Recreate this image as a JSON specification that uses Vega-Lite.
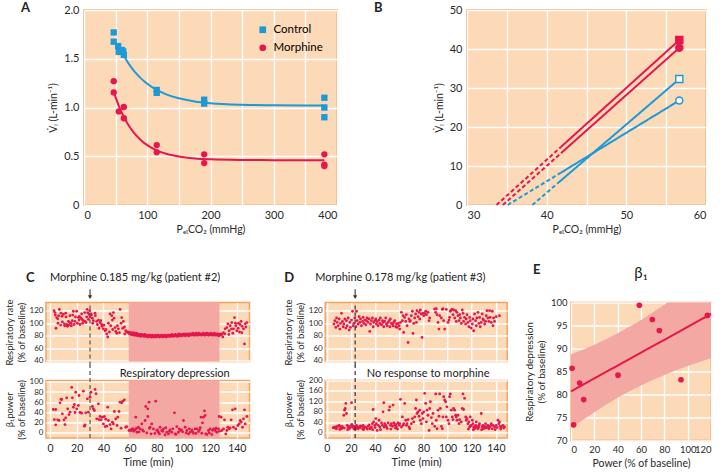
{
"$schema":"https://vega.github.io/schema/vega-lite/v6.json",
"background":"white",
"padding":{"left":3,"top":0,"right":2,"bottom":2},
"config":{
 "font":"Lato",
 "view":{"fill":"#FCD9B7","stroke":"#F5A45F","strokeWidth":1.5},
 "axis":{"domain":false,"ticks":false,"labelOverlap":false,"gridColor":"#FFFFFF","gridWidth":1.4,"gridOpacity":1,"labelColor":"#2a2a2a","titleColor":"#2a2a2a","titleFontWeight":"normal","labelFont":"Lato","titleFont":"Lato"},
 "title":{"font":"Lato","fontWeight":"normal","color":"#222222","fontSize":11},
 "legend":{"labelFont":"Lato"}
},
"datasets":{
 "a_pts":[
  {"g":"Control","x":47,"y":1.77},{"g":"Control","x":47,"y":1.675},{"g":"Control","x":54,"y":1.63},{"g":"Control","x":55,"y":1.57},{"g":"Control","x":60,"y":1.59},{"g":"Control","x":62,"y":1.575},{"g":"Control","x":63,"y":1.54},{"g":"Control","x":115,"y":1.18},{"g":"Control","x":115,"y":1.15},{"g":"Control","x":190,"y":1.08},{"g":"Control","x":190,"y":1.04},{"g":"Control","x":380,"y":1.1},{"g":"Control","x":380,"y":1.0},{"g":"Control","x":380,"y":0.9},
  {"g":"Morphine","x":47,"y":1.27},{"g":"Morphine","x":47,"y":1.155},{"g":"Morphine","x":55,"y":0.96},{"g":"Morphine","x":63,"y":1.005},{"g":"Morphine","x":63,"y":0.89},{"g":"Morphine","x":115,"y":0.615},{"g":"Morphine","x":115,"y":0.54},{"g":"Morphine","x":190,"y":0.52},{"g":"Morphine","x":190,"y":0.43},{"g":"Morphine","x":380,"y":0.52},{"g":"Morphine","x":380,"y":0.415},{"g":"Morphine","x":380,"y":0.4}
 ],
 "a_fit":[
  {"g":"Control","x":60,"y":1.563},{"g":"Control","x":70,"y":1.455},{"g":"Control","x":80,"y":1.368},{"g":"Control","x":90,"y":1.299},{"g":"Control","x":100,"y":1.243},{"g":"Control","x":115,"y":1.18},{"g":"Control","x":130,"y":1.135},{"g":"Control","x":150,"y":1.094},{"g":"Control","x":175,"y":1.062},{"g":"Control","x":200,"y":1.044},{"g":"Control","x":250,"y":1.028},{"g":"Control","x":300,"y":1.023},{"g":"Control","x":380,"y":1.02},
  {"g":"Morphine","x":47,"y":1.16},{"g":"Morphine","x":55,"y":1.017},{"g":"Morphine","x":63,"y":0.903},{"g":"Morphine","x":70,"y":0.823},{"g":"Morphine","x":80,"y":0.732},{"g":"Morphine","x":90,"y":0.665},{"g":"Morphine","x":100,"y":0.614},{"g":"Morphine","x":115,"y":0.56},{"g":"Morphine","x":130,"y":0.525},{"g":"Morphine","x":150,"y":0.497},{"g":"Morphine","x":175,"y":0.478},{"g":"Morphine","x":200,"y":0.469},{"g":"Morphine","x":250,"y":0.462},{"g":"Morphine","x":300,"y":0.46},{"g":"Morphine","x":380,"y":0.46}
 ],
 "b_lines":[
  {"s":"red_sq","seg":"dashed","x":33.7,"y":0},{"s":"red_sq","seg":"dashed","x":41.8,"y":14.9},{"s":"red_sq","seg":"solid","x":41.8,"y":14.9},{"s":"red_sq","seg":"solid","x":56.65,"y":42.3},
  {"s":"red_ci","seg":"dashed","x":34.5,"y":0},{"s":"red_ci","seg":"dashed","x":41.8,"y":13.3},{"s":"red_ci","seg":"solid","x":41.8,"y":13.3},{"s":"red_ci","seg":"solid","x":56.65,"y":40.3},
  {"s":"blue_sq","seg":"dashed","x":38.2,"y":0},{"s":"blue_sq","seg":"dashed","x":41.4,"y":5.6},{"s":"blue_sq","seg":"solid","x":41.4,"y":5.6},{"s":"blue_sq","seg":"solid","x":56.65,"y":32.3},
  {"s":"blue_ci","seg":"dashed","x":35.1,"y":0},{"s":"blue_ci","seg":"dashed","x":41.8,"y":8.3},{"s":"blue_ci","seg":"solid","x":41.8,"y":8.3},{"s":"blue_ci","seg":"solid","x":56.65,"y":26.8}
 ],
 "b_ends":[{"s":"red_sq","x":56.65,"y":42.3},{"s":"red_ci","x":56.65,"y":40.3},{"s":"blue_sq","x":56.65,"y":32.3},{"s":"blue_ci","x":56.65,"y":26.8}],
 "c_phase":[{"start":59,"end":127}],
 "c_dose":[{"t":30}],
 "d_dose":[{"t":23.5}],
 "c_rr":[
  {"t":3,"v":120},{"t":3.75,"v":117},{"t":4,"v":113},{"t":4.5,"v":92},{"t":5,"v":109},{"t":5.75,"v":107},{"t":6,"v":100},{"t":6.5,"v":112},{"t":7,"v":122},{"t":8,"v":97},{"t":8.25,"v":116},{"t":9,"v":111},{"t":9.25,"v":102},{"t":10,"v":114},{"t":10.75,"v":99},{"t":11,"v":96},{"t":11.75,"v":116},{"t":12,"v":110},{"t":12.5,"v":98},{"t":13,"v":95},{"t":13.75,"v":103},{"t":14,"v":97},{"t":14.75,"v":101},{"t":15,"v":112},{"t":15.75,"v":100},{"t":16,"v":96},{"t":16.75,"v":104},{"t":17,"v":113},{"t":17.5,"v":119},{"t":18,"v":98},{"t":18.75,"v":103},{"t":19,"v":110},{"t":20,"v":119},{"t":20.5,"v":100},{"t":21.25,"v":109},{"t":21.75,"v":105},{"t":22,"v":111},{"t":22.5,"v":98},{"t":23.25,"v":108},{"t":23.75,"v":115},{"t":24,"v":106},{"t":24.5,"v":100},{"t":25,"v":104},{"t":26,"v":117},{"t":26.25,"v":103},{"t":27,"v":101},{"t":27.5,"v":110},{"t":27.75,"v":122},{"t":28.25,"v":117},{"t":28.75,"v":106},{"t":29.25,"v":114},{"t":29.75,"v":120},{"t":30,"v":110},{"t":30.75,"v":115},{"t":31,"v":113},{"t":31.75,"v":108},{"t":32,"v":100},{"t":32.5,"v":104},{"t":33.75,"v":116},{"t":34,"v":112},{"t":35,"v":103},{"t":35.5,"v":98},{"t":36.25,"v":105},{"t":36.75,"v":92},{"t":37.5,"v":101},{"t":38,"v":104},{"t":38.75,"v":98},{"t":39,"v":95},{"t":40,"v":91},{"t":40.5,"v":97},{"t":41.25,"v":88},{"t":42,"v":90},{"t":42.5,"v":83},{"t":43.25,"v":78},{"t":43.75,"v":100},{"t":44.5,"v":86},{"t":45,"v":115},{"t":45.5,"v":96},{"t":46.25,"v":112},{"t":46.75,"v":105},{"t":47,"v":90},{"t":47.5,"v":117},{"t":48,"v":108},{"t":48.75,"v":93},{"t":49.25,"v":87},{"t":50,"v":84},{"t":50.5,"v":96},{"t":51.25,"v":91},{"t":52,"v":85},{"t":52.5,"v":122},{"t":53.25,"v":100},{"t":53.75,"v":109},{"t":54.5,"v":92},{"t":55,"v":103},{"t":55.75,"v":94},{"t":56,"v":83},{"t":56.75,"v":88},{"t":57.5,"v":86},
  {"t":58.5,"v":86},{"t":59,"v":84},{"t":59.5,"v":85},{"t":60,"v":83},{"t":60.5,"v":85},{"t":61,"v":82},{"t":61.5,"v":84},{"t":62,"v":82},{"t":62.5,"v":85},{"t":63,"v":81},{"t":63.5,"v":83},{"t":64,"v":81},{"t":64.5,"v":84},{"t":65,"v":82},{"t":65.5,"v":80},{"t":66,"v":83},{"t":66.5,"v":81},{"t":67,"v":80},{"t":67.5,"v":82},{"t":68,"v":79},{"t":68.5,"v":81},{"t":69,"v":82},{"t":69.5,"v":80},{"t":70,"v":81},{"t":70.5,"v":79},{"t":71,"v":82},{"t":71.5,"v":80},{"t":72,"v":79},{"t":72.5,"v":81},{"t":73,"v":80},{"t":73.5,"v":78},{"t":74,"v":80},{"t":74.5,"v":81},{"t":75,"v":79},{"t":75.5,"v":80},{"t":76,"v":78},{"t":76.5,"v":81},{"t":77,"v":79},{"t":77.5,"v":78},{"t":78,"v":80},{"t":78.5,"v":79},{"t":79,"v":81},{"t":79.5,"v":78},{"t":80,"v":80},{"t":80.5,"v":79},{"t":81,"v":81},{"t":81.5,"v":80},{"t":82,"v":78},{"t":82.5,"v":80},{"t":83,"v":79},{"t":83.5,"v":81},{"t":84,"v":80},{"t":84.5,"v":78},{"t":85,"v":80},{"t":85.5,"v":79},{"t":86,"v":81},{"t":86.5,"v":80},{"t":87,"v":78},{"t":87.5,"v":80},{"t":88,"v":79},{"t":88.5,"v":81},{"t":89,"v":80},{"t":89.5,"v":79},{"t":90,"v":81},{"t":90.5,"v":79},{"t":91,"v":80},{"t":91.5,"v":82},{"t":92,"v":80},{"t":92.5,"v":79},{"t":93,"v":81},{"t":93.5,"v":80},{"t":94,"v":82},{"t":94.5,"v":80},{"t":95,"v":81},{"t":95.5,"v":79},{"t":96,"v":80},{"t":96.5,"v":83},{"t":97,"v":81},{"t":97.5,"v":80},{"t":98,"v":82},{"t":98.5,"v":81},{"t":99,"v":80},{"t":99.5,"v":82},{"t":100,"v":81},{"t":100.5,"v":83},{"t":101,"v":81},{"t":101.5,"v":80},{"t":102,"v":82},{"t":102.5,"v":83},{"t":103,"v":81},{"t":103.5,"v":82},{"t":104,"v":80},{"t":104.5,"v":83},{"t":105,"v":82},{"t":105.5,"v":81},{"t":106,"v":83},{"t":106.5,"v":82},{"t":107,"v":84},{"t":107.5,"v":81},{"t":108,"v":82},{"t":108.5,"v":83},{"t":109,"v":81},{"t":109.5,"v":84},{"t":110,"v":82},{"t":110.5,"v":83},{"t":111,"v":81},{"t":111.5,"v":84},{"t":112,"v":82},{"t":112.5,"v":83},{"t":113,"v":82},{"t":113.5,"v":81},{"t":114,"v":83},{"t":114.5,"v":82},{"t":115,"v":84},{"t":115.5,"v":82},{"t":116,"v":81},{"t":116.5,"v":83},{"t":117,"v":82},{"t":117.5,"v":84},{"t":118,"v":82},{"t":118.5,"v":83},{"t":119,"v":81},{"t":119.5,"v":83},{"t":120,"v":82},{"t":120.5,"v":84},{"t":121,"v":82},{"t":121.5,"v":81},{"t":122,"v":83},{"t":122.5,"v":82},{"t":123,"v":84},{"t":123.5,"v":81},{"t":124,"v":83},{"t":124.5,"v":82},{"t":125,"v":81},{"t":125.5,"v":83},{"t":126,"v":82},{"t":126.5,"v":80},{"t":127,"v":82},{"t":127.5,"v":81},{"t":128,"v":83},
  {"t":128.75,"v":82},{"t":129.5,"v":78},{"t":130,"v":85},{"t":131,"v":83},{"t":131.25,"v":91},{"t":132.5,"v":93},{"t":133.25,"v":99},{"t":134,"v":82},{"t":134.25,"v":88},{"t":135,"v":96},{"t":136,"v":91},{"t":136.25,"v":101},{"t":137,"v":84},{"t":137.5,"v":91},{"t":138.25,"v":109},{"t":139,"v":100},{"t":139.25,"v":96},{"t":140,"v":88},{"t":141,"v":92},{"t":141.25,"v":100},{"t":142,"v":86},{"t":142.5,"v":98},{"t":143.25,"v":103},{"t":143.75,"v":85},{"t":144,"v":95},{"t":145,"v":91},{"t":145.75,"v":67},{"t":146.25,"v":99},{"t":146.8,"v":94},{"t":147.5,"v":101}
 ],
 "c_pw":[
  {"t":2.5,"v":45.8},{"t":4.25,"v":45.8},{"t":3.25,"v":26.1},{"t":4.25,"v":15.7},{"t":5.75,"v":25.5},{"t":6.75,"v":24.2},{"t":7.5,"v":58.8},{"t":8.25,"v":66},{"t":8.75,"v":65.4},{"t":9.25,"v":37.3},{"t":10.5,"v":25.5},{"t":11.25,"v":16.3},{"t":11.75,"v":29.4},{"t":12.5,"v":68.6},{"t":13.25,"v":47.1},{"t":14.25,"v":35.9},{"t":15,"v":40.5},{"t":16.25,"v":88.9},{"t":16.75,"v":68.6},{"t":17.5,"v":50.3},{"t":18.25,"v":55.6},{"t":18.75,"v":39.9},{"t":19.25,"v":79.7},{"t":20,"v":47.1},{"t":21.25,"v":53.6},{"t":21.75,"v":73.2},{"t":22.5,"v":39.9},{"t":23.75,"v":38.6},{"t":25,"v":81.7},{"t":25.75,"v":13.1},{"t":26.25,"v":15.7},{"t":26.75,"v":39.2},{"t":28,"v":66.7},{"t":28.75,"v":40.5},{"t":30,"v":69.9},{"t":30.75,"v":79.7},{"t":31.75,"v":51.6},{"t":32.5,"v":47.1},{"t":33.25,"v":43.8},{"t":33.75,"v":85},{"t":34.5,"v":76.5},{"t":35,"v":27.5},{"t":36.25,"v":56.9},{"t":36.75,"v":26.1},{"t":37.5,"v":32},{"t":38.25,"v":25.5},{"t":39.25,"v":30.7},{"t":40,"v":17.6},{"t":40.75,"v":32},{"t":41.25,"v":12.4},{"t":41.75,"v":26.8},{"t":42.5,"v":13.1},{"t":43.25,"v":50.3},{"t":43.75,"v":24.2},{"t":45,"v":16.3},{"t":45.75,"v":7.8},{"t":46.75,"v":20.9},{"t":47.5,"v":17.6},{"t":48.25,"v":41.8},{"t":49.25,"v":27.5},{"t":50.25,"v":14.4},{"t":50.75,"v":30.7},{"t":51.75,"v":41.8},{"t":52.5,"v":60.1},{"t":53.25,"v":9.2},{"t":53.75,"v":58.8},{"t":54.5,"v":62.1},{"t":55.75,"v":64.7},{"t":56.75,"v":11.1},{"t":57.5,"v":12.4},
  {"t":59.25,"v":4.6},{"t":60.25,"v":5.9},{"t":60.75,"v":4.6},{"t":61.75,"v":7.8},{"t":62,"v":8},{"t":62.75,"v":3.3},{"t":63.75,"v":5.9},{"t":64.25,"v":30.7},{"t":64.8,"v":9},{"t":65.25,"v":1.3},{"t":66.25,"v":11.1},{"t":66.8,"v":2},{"t":67.5,"v":7.8},{"t":68.75,"v":17.6},{"t":69.3,"v":6},{"t":70,"v":3.3},{"t":71.25,"v":24.2},{"t":71.75,"v":51.6},{"t":72.5,"v":0},{"t":73.25,"v":47.1},{"t":73.3,"v":32},{"t":74.25,"v":60.1},{"t":74.6,"v":9},{"t":75,"v":11.1},{"t":75.75,"v":-2},{"t":76.25,"v":17.6},{"t":77.5,"v":7.8},{"t":78.6,"v":-1},{"t":79.25,"v":62.1},{"t":80,"v":4.6},{"t":80.6,"v":6},{"t":81.25,"v":1.3},{"t":82,"v":-2},{"t":82.5,"v":11.1},{"t":83.75,"v":4.6},{"t":84.4,"v":3},{"t":85,"v":7.8},{"t":86.25,"v":-3.9},{"t":86.8,"v":10},{"t":87.5,"v":1.3},{"t":88.75,"v":-2},{"t":89.4,"v":3},{"t":90,"v":5.9},{"t":91.25,"v":1.3},{"t":92,"v":8},{"t":93.25,"v":39.2},{"t":93.75,"v":-2},{"t":94.4,"v":-3},{"t":95,"v":12.4},{"t":96.25,"v":1.3},{"t":96.8,"v":8},{"t":97.5,"v":4.6},{"t":98.75,"v":5.9},{"t":99.4,"v":2},{"t":100,"v":24.2},{"t":101.25,"v":11.1},{"t":102,"v":0},{"t":102.5,"v":4.6},{"t":103.75,"v":-2},{"t":104.4,"v":8},{"t":105,"v":1.3},{"t":106.25,"v":5.9},{"t":106.8,"v":3},{"t":107.5,"v":-0.7},{"t":108.75,"v":7.8},{"t":109.4,"v":-1},{"t":110,"v":7.8},{"t":111.25,"v":2.6},{"t":112,"v":6},{"t":112.6,"v":10},{"t":113.25,"v":30.7},{"t":113.75,"v":-0.7},{"t":114.25,"v":19.6},{"t":115,"v":30.7},{"t":115.75,"v":43.1},{"t":116.25,"v":34},{"t":116.75,"v":-2},{"t":117.5,"v":-3.3},{"t":118.75,"v":4.6},{"t":119.4,"v":0},{"t":120,"v":7.8},{"t":121.25,"v":-3.3},{"t":121.8,"v":5},{"t":122.5,"v":7.8},{"t":123.75,"v":4.6},{"t":124.4,"v":9},{"t":125,"v":1.3},{"t":126.25,"v":7.8},{"t":126.75,"v":32},{"t":127,"v":3},
  {"t":128.25,"v":30.7},{"t":128.75,"v":4.6},{"t":130,"v":7.8},{"t":130.75,"v":25.5},{"t":131.75,"v":-2},{"t":132.5,"v":4.6},{"t":133.25,"v":11.1},{"t":134.25,"v":7.8},{"t":135,"v":9.8},{"t":135.75,"v":25.5},{"t":136.75,"v":45.1},{"t":137.5,"v":11.1},{"t":138.75,"v":47.1},{"t":139.25,"v":7.8},{"t":140.75,"v":14.4},{"t":141.75,"v":17.6},{"t":142.5,"v":24.2},{"t":143.25,"v":20.9},{"t":144.25,"v":11.1},{"t":145,"v":27.5},{"t":145.75,"v":45.1},{"t":146.25,"v":17.6},{"t":147.5,"v":32}
 ],
 "d_rr":[
  {"t":5.9,"v":98.7},{"t":6.7,"v":104},{"t":7.5,"v":93.3},{"t":8.1,"v":108.3},{"t":8.6,"v":101.3},{"t":9.5,"v":96},{"t":10.3,"v":106.7},{"t":10.8,"v":90.7},{"t":11.4,"v":99.7},{"t":12.2,"v":115.7},{"t":13,"v":102.9},{"t":13.6,"v":94.4},{"t":14.1,"v":98.7},{"t":15,"v":106.7},{"t":15.8,"v":92.3},{"t":16.3,"v":104},{"t":16.9,"v":96},{"t":17.7,"v":108.3},{"t":18.5,"v":89.1},{"t":19.1,"v":101.3},{"t":19.6,"v":93.3},{"t":20.5,"v":105},{"t":21.3,"v":119},{"t":21.8,"v":96},{"t":22.4,"v":99.7},{"t":23.2,"v":108.3},{"t":24.1,"v":94.4},{"t":24.6,"v":119},{"t":25.2,"v":104},{"t":26,"v":98.7},{"t":26.8,"v":110.4},{"t":27.4,"v":101.3},{"t":27.9,"v":106.7},{"t":28.7,"v":96},{"t":29.6,"v":102.9},{"t":30.1,"v":109.3},{"t":30.7,"v":99.7},{"t":31.5,"v":105},{"t":32.3,"v":97.6},{"t":32.9,"v":104},{"t":33.4,"v":108.3},{"t":34.2,"v":101.3},{"t":35.1,"v":106.7},{"t":35.6,"v":86.9},{"t":36.2,"v":98.7},{"t":37,"v":104},{"t":37.8,"v":108.3},{"t":38.4,"v":94.4},{"t":38.9,"v":101.3},{"t":39.8,"v":104},{"t":40.6,"v":106.7},{"t":41.1,"v":98.7},{"t":41.7,"v":102.9},{"t":42.5,"v":96},{"t":43.3,"v":105},{"t":43.9,"v":99.7},{"t":44.4,"v":108.3},{"t":45.3,"v":97.6},{"t":46.1,"v":104},{"t":46.6,"v":101.3},{"t":47.2,"v":94.4},{"t":48,"v":102.9},{"t":48.8,"v":108.3},{"t":49.4,"v":98.7},{"t":50,"v":96},{"t":50.8,"v":101.3},{"t":51.6,"v":104},{"t":52.2,"v":94.4},{"t":52.7,"v":106.7},{"t":53.5,"v":99.7},{"t":54.4,"v":98.7},{"t":54.9,"v":96},{"t":55.5,"v":101.3},{"t":56.3,"v":104},{"t":57.1,"v":94.4},{"t":57.7,"v":98.7},{"t":58.2,"v":93.3},{"t":59,"v":99.7},{"t":59.9,"v":96},{"t":60.4,"v":90.7},{"t":61,"v":101.3},{"t":61.8,"v":117.3},{"t":62.6,"v":104},{"t":63.2,"v":112},{"t":63.7,"v":85.3},{"t":64.5,"v":109.3},{"t":65.4,"v":102.9},{"t":65.9,"v":113.6},{"t":66.5,"v":96},{"t":67.3,"v":69.3},{"t":68.1,"v":106.7},{"t":68.7,"v":102.9},{"t":69.2,"v":104},{"t":70,"v":112},{"t":70.9,"v":119},{"t":71.4,"v":83.7},{"t":72,"v":99.7},{"t":72.8,"v":108.3},{"t":73.6,"v":114.7},{"t":74.2,"v":101.3},{"t":74.7,"v":120},{"t":75.6,"v":110.4},{"t":76.4,"v":117.3},{"t":77,"v":106.7},{"t":77.5,"v":121},{"t":78.3,"v":114.7},{"t":78.9,"v":77.3},{"t":79.7,"v":115.7},{"t":80.3,"v":112},{"t":81.1,"v":115.7},{"t":81.9,"v":119},{"t":82.5,"v":113.6},{"t":83.8,"v":117.3},{"t":84.7,"v":104},{"t":85.2,"v":108.3},{"t":89.3,"v":122.7},{"t":90.2,"v":117.3},{"t":90.7,"v":123},{"t":91.3,"v":113.6},{"t":92.1,"v":101.3},{"t":92.9,"v":90.7},{"t":93.5,"v":112},{"t":94.9,"v":108.3},{"t":95.7,"v":122},{"t":96.2,"v":123},{"t":96.8,"v":104},{"t":97.6,"v":90.7},{"t":99,"v":122},{"t":100.4,"v":101.3},{"t":101.2,"v":105},{"t":101.7,"v":109.3},{"t":102.3,"v":119},{"t":103.1,"v":121},{"t":103.9,"v":122},{"t":104.5,"v":113.6},{"t":105,"v":121},{"t":105.9,"v":108.3},{"t":106.7,"v":120},{"t":107.2,"v":102.9},{"t":107.8,"v":117.3},{"t":108.6,"v":112},{"t":109.5,"v":104},{"t":110,"v":113.6},{"t":110.6,"v":108.3},{"t":111.4,"v":99.7},{"t":112.2,"v":121},{"t":112.8,"v":115.7},{"t":113.3,"v":102.9},{"t":114.1,"v":109.3},{"t":115,"v":98.7},{"t":115.5,"v":106.7},{"t":116.1,"v":113.6},{"t":116.9,"v":101.3},{"t":117.7,"v":94.4},{"t":118.3,"v":109.3},{"t":118.8,"v":104},{"t":119.6,"v":92.3},{"t":120.5,"v":98.7},{"t":121,"v":106.7},{"t":121.6,"v":88},{"t":122.4,"v":114.7},{"t":123.2,"v":104},{"t":123.8,"v":96},{"t":124.3,"v":108.3},{"t":125.2,"v":117.3},{"t":126,"v":99.7},{"t":126.5,"v":109.3},{"t":127.1,"v":94.4},{"t":127.9,"v":101.3},{"t":128.7,"v":114.7},{"t":129.3,"v":106.7},{"t":129.8,"v":105},{"t":130.7,"v":98.7},{"t":131.5,"v":102.9},{"t":132,"v":112},{"t":132.6,"v":120},{"t":133.4,"v":108.3},{"t":134.2,"v":102.9},{"t":134.8,"v":120},{"t":135.3,"v":109.3},{"t":136.2,"v":101.3},{"t":137,"v":119},{"t":137.6,"v":96},{"t":138.1,"v":108.3},{"t":138.9,"v":102.9},{"t":140.3,"v":110.4},{"t":143,"v":112}
 ],
 "d_pw":[
  {"t":5.3,"v":19.4},{"t":6.7,"v":22},{"t":7.2,"v":17},{"t":8.1,"v":15.5},{"t":8.8,"v":25},{"t":9.5,"v":24.6},{"t":10.3,"v":28.4},{"t":10.8,"v":13},{"t":11.4,"v":22},{"t":12.2,"v":15.5},{"t":12.8,"v":24},{"t":13,"v":19.4},{"t":14.1,"v":67.1},{"t":14.5,"v":18},{"t":14.7,"v":86.5},{"t":15.2,"v":92.9},{"t":15.8,"v":112.3},{"t":16.3,"v":73.6},{"t":16.9,"v":28.4},{"t":17.3,"v":12},{"t":17.7,"v":22},{"t":18.5,"v":15.5},{"t":19.1,"v":24.6},{"t":19.6,"v":20},{"t":20.5,"v":114.9},{"t":20.7,"v":32.3},{"t":21.2,"v":27},{"t":21.8,"v":22},{"t":22.4,"v":15.5},{"t":23.2,"v":24.6},{"t":23.8,"v":14},{"t":24.1,"v":19.4},{"t":24.6,"v":28.4},{"t":25.3,"v":22},{"t":26,"v":15.5},{"t":26.8,"v":22},{"t":27.4,"v":19.4},{"t":27.9,"v":26},{"t":28.7,"v":24.6},{"t":29.6,"v":15.5},{"t":30.1,"v":28.4},{"t":30.5,"v":12},{"t":31,"v":20},{"t":31.5,"v":22},{"t":32.9,"v":19.4},{"t":33.5,"v":14},{"t":34.2,"v":24.6},{"t":35,"v":30},{"t":35.6,"v":15.5},{"t":36.3,"v":18},{"t":37,"v":22},{"t":37.8,"v":34.9},{"t":38,"v":12},{"t":38.4,"v":89.1},{"t":38.9,"v":41.4},{"t":39.8,"v":28.4},{"t":40,"v":20},{"t":40.6,"v":54.3},{"t":41.1,"v":34.9},{"t":41.7,"v":9.1},{"t":42.5,"v":28.4},{"t":43.3,"v":47.8},{"t":43.9,"v":22},{"t":44.5,"v":12},{"t":45.3,"v":37.5},{"t":46.1,"v":28.4},{"t":46.6,"v":80.1},{"t":47.2,"v":114.9},{"t":47.5,"v":22},{"t":48,"v":34.9},{"t":48.8,"v":28.4},{"t":49.4,"v":22},{"t":50,"v":16},{"t":50.8,"v":37.5},{"t":51.6,"v":86.5},{"t":52.2,"v":99.4},{"t":52.7,"v":28.4},{"t":53,"v":14},{"t":53.5,"v":34.9},{"t":54.4,"v":24.6},{"t":54.9,"v":105.9},{"t":55.5,"v":37.5},{"t":56.3,"v":28.4},{"t":56.8,"v":18},{"t":57.1,"v":32.3},{"t":57.7,"v":22},{"t":58.5,"v":14},{"t":59,"v":37.5},{"t":59.9,"v":28.4},{"t":60.4,"v":34.9},{"t":61,"v":127.9},{"t":61.8,"v":22},{"t":62.6,"v":60.7},{"t":63.2,"v":28.4},{"t":63.7,"v":34.9},{"t":64.5,"v":112.3},{"t":65.4,"v":47.8},{"t":65.9,"v":28.4},{"t":66.5,"v":34.9},{"t":67.3,"v":50.4},{"t":68.1,"v":22},{"t":68.7,"v":15.5},{"t":70,"v":34.9},{"t":70.9,"v":54.3},{"t":72,"v":41.4},{"t":72.8,"v":60.7},{"t":73.6,"v":92.9},{"t":74.2,"v":125.3},{"t":74.7,"v":73.6},{"t":75.6,"v":80.1},{"t":76.4,"v":63.3},{"t":77,"v":86.5},{"t":77.5,"v":47.8},{"t":78.3,"v":34.9},{"t":79.1,"v":73.6},{"t":79.7,"v":54.3},{"t":80.3,"v":80.1},{"t":81.1,"v":151},{"t":81.9,"v":112.3},{"t":82.5,"v":41.4},{"t":83,"v":86.5},{"t":83.8,"v":67.1},{"t":84.7,"v":9.1},{"t":85.2,"v":92.9},{"t":85.8,"v":118.7},{"t":86.6,"v":58.1},{"t":87.4,"v":34.9},{"t":88,"v":73.6},{"t":89.3,"v":24.6},{"t":90.2,"v":148.5},{"t":90.7,"v":47.8},{"t":91.3,"v":15.5},{"t":92.1,"v":86.5},{"t":92.9,"v":63.3},{"t":93.5,"v":148.5},{"t":94,"v":92.9},{"t":94.9,"v":24.6},{"t":95.7,"v":15.5},{"t":96.2,"v":60.7},{"t":96.8,"v":138.2},{"t":97.6,"v":125.3},{"t":98.4,"v":118.7},{"t":99,"v":60.7},{"t":99.5,"v":99.4},{"t":100.4,"v":47.8},{"t":101.2,"v":34.9},{"t":101.7,"v":138.2},{"t":102.3,"v":148.5},{"t":103.1,"v":86.5},{"t":103.9,"v":60.7},{"t":104.5,"v":50.4},{"t":105,"v":92.9},{"t":105.9,"v":86.5},{"t":106.7,"v":67.1},{"t":107.2,"v":60.7},{"t":107.8,"v":47.8},{"t":108.6,"v":67.1},{"t":109.5,"v":34.9},{"t":110,"v":50.4},{"t":111.4,"v":41.4},{"t":112.2,"v":92.9},{"t":112.8,"v":148.5},{"t":113.3,"v":89.1},{"t":114.1,"v":131.7},{"t":115,"v":60.7},{"t":115.5,"v":47.8},{"t":116.1,"v":54.3},{"t":116.9,"v":34.9},{"t":117.3,"v":14},{"t":117.7,"v":41.4},{"t":118.3,"v":22},{"t":118.8,"v":60.7},{"t":119,"v":26},{"t":119.6,"v":28.4},{"t":120.5,"v":47.8},{"t":121,"v":34.9},{"t":121.3,"v":12},{"t":121.6,"v":22},{"t":122.4,"v":15.5},{"t":123,"v":20},{"t":123.2,"v":28.4},{"t":123.8,"v":41.4},{"t":124.3,"v":22},{"t":125.2,"v":15.5},{"t":125.8,"v":22},{"t":126,"v":28.4},{"t":126.5,"v":34.9},{"t":127.9,"v":73.6},{"t":128.2,"v":12},{"t":128.7,"v":22},{"t":129.3,"v":28.4},{"t":129.8,"v":15.5},{"t":130.7,"v":24.6},{"t":131,"v":18},{"t":131.5,"v":34.9},{"t":132,"v":19.4},{"t":133,"v":22},{"t":133.4,"v":28.4},{"t":134.2,"v":15.5},{"t":134.8,"v":22},{"t":135.5,"v":26},{"t":136.2,"v":34.9},{"t":137,"v":15},{"t":137.6,"v":28.4},{"t":138.9,"v":22},{"t":139.5,"v":12},{"t":140.3,"v":28.4},{"t":141,"v":20},{"t":141.7,"v":47.8},{"t":142.5,"v":34.9},{"t":143,"v":41.4},{"t":143.6,"v":24.6},{"t":144,"v":14},{"t":144.4,"v":22},{"t":145.8,"v":28.4},{"t":146.5,"v":18},{"t":147.2,"v":22}
 ],
 "e_pts":[{"x":0.9,"y":85.7},{"x":7.4,"y":82.5},{"x":10.9,"y":78.9},{"x":2.3,"y":73.4},{"x":40.3,"y":84.2},{"x":58.6,"y":99.4},{"x":69.7,"y":96.3},{"x":75.7,"y":93.9},{"x":94.3,"y":83.2},{"x":116.9,"y":97.2}],
 "e_band":[
  {"x":0,"fit":80.7,"lo":72.65,"hi":88.75},{"x":10,"fit":82.1,"lo":74.45,"hi":89.75},{"x":20,"fit":83.5,"lo":76.16,"hi":90.84},{"x":30,"fit":84.9,"lo":77.78,"hi":92.02},{"x":40,"fit":86.3,"lo":79.29,"hi":93.31},{"x":50,"fit":87.7,"lo":80.69,"hi":94.71},{"x":60,"fit":89.1,"lo":81.98,"hi":96.22},{"x":70,"fit":90.5,"lo":83.16,"hi":97.84},{"x":80,"fit":91.9,"lo":84.25,"hi":99.55},{"x":90,"fit":93.3,"lo":85.25,"hi":101.35},{"x":100,"fit":94.7,"lo":86.18,"hi":103.22},{"x":110,"fit":96.1,"lo":87.05,"hi":105.15},{"x":120,"fit":97.5,"lo":87.9,"hi":107.1}
 ]
},
"resolve":{"scale":{"color":"independent","shape":"independent","fill":"independent","stroke":"independent","strokeDash":"independent"},"legend":{"color":"independent","shape":"independent"}},
"columns":1,
"align":"none",
"spacing":27.5,
"concat":[
 {"spacing":-27,
  "resolve":{"scale":{"color":"independent","shape":"independent","fill":"independent","stroke":"independent","strokeDash":"independent"},"legend":{"color":"independent","shape":"independent"}},
  "hconcat":[
   {"width":1,"height":1,"data":{"values":[]},"mark":"point","view":{"stroke":null,"fill":"white"}},
   {"spacing":35,
    "resolve":{"scale":{"color":"independent","shape":"independent","fill":"independent","stroke":"independent","strokeDash":"independent"},"legend":{"color":"independent","shape":"independent"}},
    "hconcat":[
     {"width":253,"height":195,
      "title":{"text":"A","anchor":"start","frame":"group","dx":-63,"offset":-10.5,"fontWeight":"bold","fontSize":13},
      "layer":[
       {"data":{"name":"a_fit"},"transform":[{"filter":"datum.g === 'Control'"}],"mark":{"type":"line","strokeWidth":2,"interpolate":"monotone","color":"#1D9AD6"},
        "encoding":{"x":{"field":"x","type":"quantitative","scale":{"domain":[0,400],"nice":false},"axis":{"values":[0,50,100,150,200,250,300,350,400],"labelExpr":"datum.value % 100 === 0 ? datum.label : ''","labelOverlap":false,"title":"PₑₜCO₂ (mmHg)","labelFontSize":11,"titleFontSize":10.5,"labelPadding":4,"titlePadding":4}},
         "y":{"field":"y","type":"quantitative","scale":{"domain":[0,2],"nice":false},"axis":{"values":[0,0.5,1,1.5,2],"labelExpr":"datum.value === 0 ? '0' : format(datum.value, '.1f')","labelOverlap":false,"title":"V̇ᵢ (L-min⁻¹)","labelFontSize":11,"titleFontSize":10.5,"labelPadding":5,"titlePadding":5}}}},
       {"data":{"name":"a_fit"},"transform":[{"filter":"datum.g === 'Morphine'"}],"mark":{"type":"line","strokeWidth":2,"interpolate":"monotone","color":"#E5174B"},
        "encoding":{"x":{"field":"x","type":"quantitative","scale":{"domain":[0,400],"nice":false},"axis":{"values":[0,50,100,150,200,250,300,350,400],"labelExpr":"datum.value % 100 === 0 ? datum.label : ''","labelOverlap":false,"title":"PₑₜCO₂ (mmHg)","labelFontSize":11,"titleFontSize":10.5,"labelPadding":4,"titlePadding":4}},
         "y":{"field":"y","type":"quantitative","scale":{"domain":[0,2],"nice":false},"axis":{"values":[0,0.5,1,1.5,2],"labelExpr":"datum.value === 0 ? '0' : format(datum.value, '.1f')","labelOverlap":false,"title":"V̇ᵢ (L-min⁻¹)","labelFontSize":11,"titleFontSize":10.5,"labelPadding":5,"titlePadding":5}}}},
       {"data":{"name":"a_pts"},"mark":{"type":"point","filled":true,"size":40,"opacity":1},
        "encoding":{"x":{"field":"x","type":"quantitative","scale":{"domain":[0,400],"nice":false},"axis":{"values":[0,50,100,150,200,250,300,350,400],"labelExpr":"datum.value % 100 === 0 ? datum.label : ''","labelOverlap":false,"title":"PₑₜCO₂ (mmHg)","labelFontSize":11,"titleFontSize":10.5,"labelPadding":4,"titlePadding":4}},
         "y":{"field":"y","type":"quantitative","scale":{"domain":[0,2],"nice":false},"axis":{"values":[0,0.5,1,1.5,2],"labelExpr":"datum.value === 0 ? '0' : format(datum.value, '.1f')","labelOverlap":false,"title":"V̇ᵢ (L-min⁻¹)","labelFontSize":11,"titleFontSize":10.5,"labelPadding":5,"titlePadding":5}},
         "color":{"field":"g","type":"nominal","scale":{"domain":["Control","Morphine"],"range":["#1D9AD6","#E5174B"]},"legend":{"title":null,"orient":"top-right","offset":14,"labelFontSize":11.5,"symbolSize":45,"rowPadding":5,"labelOffset":5,"padding":0}},
         "shape":{"field":"g","type":"nominal","scale":{"domain":["Control","Morphine"],"range":["square","circle"]},"legend":{"title":null,"orient":"top-right","offset":14,"labelFontSize":11.5,"symbolSize":45,"rowPadding":5,"labelOffset":5,"padding":0}}}}
      ]},
     {"width":239,"height":195,
      "title":{"text":"B","anchor":"start","frame":"group","dx":-93,"offset":-10.5,"fontWeight":"bold","fontSize":13},
      "layer":[
       {"data":{"name":"b_lines"},"mark":{"type":"line","strokeWidth":2},
        "encoding":{"x":{"field":"x","type":"quantitative","scale":{"domain":[30,60],"nice":false,"zero":false},"axis":{"values":[30,35,40,45,50,55,60],"labelExpr":"datum.value % 10 === 0 ? datum.label : ''","labelOverlap":false,"title":"PₑₜCO₂ (mmHg)","labelFontSize":11,"titleFontSize":10.5,"labelPadding":4,"titlePadding":4}},
         "y":{"field":"y","type":"quantitative","scale":{"domain":[0,50],"nice":false},"axis":{"values":[0,10,20,30,40,50],"labelOverlap":false,"title":"V̇ᵢ (L-min⁻¹)","labelFontSize":11,"titleFontSize":10.5,"labelPadding":5,"titlePadding":5}},
         "color":{"field":"s","type":"nominal","scale":{"domain":["red_sq","red_ci","blue_sq","blue_ci"],"range":["#E5174B","#E5174B","#1D9AD6","#1D9AD6"]},"legend":null},
         "strokeDash":{"field":"seg","type":"nominal","scale":{"domain":["solid","dashed"],"range":[[1,0],[4,2.5]]},"legend":null},
         "detail":[{"field":"s"},{"field":"seg"}]}},
       {"data":{"name":"b_ends"},"mark":{"type":"point","size":50,"strokeWidth":1.4,"opacity":1},
        "encoding":{"x":{"field":"x","type":"quantitative","scale":{"domain":[30,60],"nice":false,"zero":false},"axis":{"values":[30,35,40,45,50,55,60],"labelExpr":"datum.value % 10 === 0 ? datum.label : ''","labelOverlap":false,"title":"PₑₜCO₂ (mmHg)","labelFontSize":11,"titleFontSize":10.5,"labelPadding":4,"titlePadding":4}},
         "y":{"field":"y","type":"quantitative","scale":{"domain":[0,50],"nice":false},"axis":{"values":[0,10,20,30,40,50],"labelOverlap":false,"title":"V̇ᵢ (L-min⁻¹)","labelFontSize":11,"titleFontSize":10.5,"labelPadding":5,"titlePadding":5}},
         "shape":{"field":"s","type":"nominal","scale":{"domain":["red_sq","red_ci","blue_sq","blue_ci"],"range":["square","circle","square","circle"]},"legend":null},
         "stroke":{"field":"s","type":"nominal","scale":{"domain":["red_sq","red_ci","blue_sq","blue_ci"],"range":["#E5174B","#E5174B","#1D9AD6","#1D9AD6"]},"legend":null},
         "fill":{"field":"s","type":"nominal","scale":{"domain":["red_sq","red_ci","blue_sq","blue_ci"],"range":["#E5174B","#E5174B","#FFFFFF","#FFFFFF"]},"legend":null}}}
      ]}
    ]}
  ]},
 {"spacing":15,"hconcat":[
  {"spacing":31.2,"hconcat":[
   {"title":{"text":"C","anchor":"start","frame":"group","dx":-20,"offset":0,"dy":13,"fontWeight":"bold","fontSize":13},
    "spacing":-4,"vconcat":[
     {"width":203.5,"height":59,
      "title":{"text":"Morphine 0.185 mg/kg (patient #2)","anchor":"start","frame":"group","dx":4,"offset":5.3,"fontSize":11},
      "layer":[
       {"data":{"name":"c_phase"},"mark":{"type":"rect","color":"#F4A8A4"},"encoding":{"x":{"field":"start","type":"quantitative","scale":{"domain":[-3,149.5],"nice":false},"axis":{"values":[0,20,40,60,80,100,120,140],"labels":false,"title":null}},"x2":{"field":"end"}}},
       {"data":{"name":"c_rr"},"mark":{"type":"circle","size":8,"color":"#E5174B","opacity":1},
        "encoding":{"x":{"field":"t","type":"quantitative","scale":{"domain":[-3,149.5],"nice":false},"axis":{"values":[0,20,40,60,80,100,120,140],"labels":false,"title":null}},
         "y":{"field":"v","type":"quantitative","scale":{"domain":[39,133],"nice":false,"zero":false},"axis":{"values":[40,60,80,100,120],"labelOverlap":false,"title":["Respiratory rate","(% of baseline)"],"labelFontSize":8,"titleFontSize":9.5,"labelPadding":3,"titlePadding":3}}}},
       {"data":{"name":"c_dose"},"mark":{"type":"rule","strokeDash":[4,3],"color":"#555555","strokeWidth":1.2,"clip":false},"encoding":{"x":{"field":"t","type":"quantitative","scale":{"domain":[-3,149.5],"nice":false},"axis":{"values":[0,20,40,60,80,100,120,140],"labels":false,"title":null}},"y":{"datum":32.6,"type":"quantitative","scale":{"domain":[39,133],"nice":false,"zero":false},"axis":{"values":[40,60,80,100,120],"labelOverlap":false,"title":["Respiratory rate","(% of baseline)"],"labelFontSize":8,"titleFontSize":9.5,"labelPadding":3,"titlePadding":3}},"y2":{"datum":133}}},
       {"data":{"name":"c_dose"},"mark":{"type":"rule","color":"#333333","strokeWidth":1.1,"clip":false},"encoding":{"x":{"field":"t","type":"quantitative","scale":{"domain":[-3,149.5],"nice":false},"axis":{"values":[0,20,40,60,80,100,120,140],"labels":false,"title":null}},"y":{"datum":143,"type":"quantitative","scale":{"domain":[39,133],"nice":false,"zero":false},"axis":{"values":[40,60,80,100,120],"labelOverlap":false,"title":["Respiratory rate","(% of baseline)"],"labelFontSize":8,"titleFontSize":9.5,"labelPadding":3,"titlePadding":3}},"y2":{"datum":154}}},
       {"data":{"name":"c_dose"},"mark":{"type":"point","shape":"triangle-down","filled":true,"color":"#333333","size":18,"opacity":1,"clip":false},"encoding":{"x":{"field":"t","type":"quantitative","scale":{"domain":[-3,149.5],"nice":false},"axis":{"values":[0,20,40,60,80,100,120,140],"labels":false,"title":null}},"y":{"datum":141.5,"type":"quantitative","scale":{"domain":[39,133],"nice":false,"zero":false},"axis":{"values":[40,60,80,100,120],"labelOverlap":false,"title":["Respiratory rate","(% of baseline)"],"labelFontSize":8,"titleFontSize":9.5,"labelPadding":3,"titlePadding":3}}}}
      ]},
     {"width":203.5,"height":57.5,
      "title":{"text":"Respiratory depression","anchor":"middle","dx":27,"offset":-15,"fontSize":11},
      "layer":[
       {"data":{"name":"c_phase"},"mark":{"type":"rect","color":"#F4A8A4"},"encoding":{"x":{"field":"start","type":"quantitative","scale":{"domain":[-3,149.5],"nice":false},"axis":{"values":[0,20,40,60,80,100,120,140],"labelOverlap":false,"title":"Time (min)","labelFontSize":10.5,"titleFontSize":11,"labelPadding":5,"titlePadding":3}},"x2":{"field":"end"}}},
       {"data":{"name":"c_pw"},"mark":{"type":"circle","size":8,"color":"#E5174B","opacity":1},
        "encoding":{"x":{"field":"t","type":"quantitative","scale":{"domain":[-3,149.5],"nice":false},"axis":{"values":[0,20,40,60,80,100,120,140],"labelOverlap":false,"title":"Time (min)","labelFontSize":10.5,"titleFontSize":11,"labelPadding":5,"titlePadding":3}},
         "y":{"field":"v","type":"quantitative","scale":{"domain":[-10,102.5],"nice":false,"zero":false},"axis":{"values":[0,20,40,60,80,100],"labelOverlap":false,"title":["β₁power","(% of baseline)"],"labelFontSize":8,"titleFontSize":9.5,"labelPadding":3,"titlePadding":3}}}},
       {"data":{"name":"c_dose"},"mark":{"type":"rule","strokeDash":[4,3],"color":"#555555","strokeWidth":1.2,"clip":false},"encoding":{"x":{"field":"t","type":"quantitative","scale":{"domain":[-3,149.5],"nice":false},"axis":{"values":[0,20,40,60,80,100,120,140],"labelOverlap":false,"title":"Time (min)","labelFontSize":10.5,"titleFontSize":11,"labelPadding":5,"titlePadding":3}},"y":{"datum":-10,"type":"quantitative","scale":{"domain":[-10,102.5],"nice":false,"zero":false},"axis":{"values":[0,20,40,60,80,100],"labelOverlap":false,"title":["β₁power","(% of baseline)"],"labelFontSize":8,"titleFontSize":9.5,"labelPadding":3,"titlePadding":3}},"y2":{"datum":133}}}
      ]}
    ]},
   {"title":{"text":"D","anchor":"start","frame":"group","dx":-41,"offset":0,"dy":13,"fontWeight":"bold","fontSize":13},
    "spacing":-4,"vconcat":[
     {"width":182,"height":59,
      "title":{"text":"Morphine 0.178 mg/kg (patient #3)","anchor":"start","frame":"group","dx":-10,"offset":5.3,"fontSize":11},
      "layer":[
       {"data":{"name":"d_rr"},"mark":{"type":"circle","size":8,"color":"#E5174B","opacity":1},
        "encoding":{"x":{"field":"t","type":"quantitative","scale":{"domain":[-1.3,149.4],"nice":false},"axis":{"values":[0,20,40,60,80,100,120,140],"labels":false,"title":null}},
         "y":{"field":"v","type":"quantitative","scale":{"domain":[39,133],"nice":false,"zero":false},"axis":{"values":[40,60,80,100,120],"labelOverlap":false,"title":["Respiratory rate","(% of baseline)"],"labelFontSize":8,"titleFontSize":9.5,"labelPadding":3,"titlePadding":3}}}},
       {"data":{"name":"d_dose"},"mark":{"type":"rule","strokeDash":[4,3],"color":"#333333","strokeWidth":1.2,"clip":false},"encoding":{"x":{"field":"t","type":"quantitative","scale":{"domain":[-1.3,149.4],"nice":false},"axis":{"values":[0,20,40,60,80,100,120,140],"labels":false,"title":null}},"y":{"datum":32.6,"type":"quantitative","scale":{"domain":[39,133],"nice":false,"zero":false},"axis":{"values":[40,60,80,100,120],"labelOverlap":false,"title":["Respiratory rate","(% of baseline)"],"labelFontSize":8,"titleFontSize":9.5,"labelPadding":3,"titlePadding":3}},"y2":{"datum":133}}},
       {"data":{"name":"d_dose"},"mark":{"type":"rule","color":"#333333","strokeWidth":1.1,"clip":false},"encoding":{"x":{"field":"t","type":"quantitative","scale":{"domain":[-1.3,149.4],"nice":false},"axis":{"values":[0,20,40,60,80,100,120,140],"labels":false,"title":null}},"y":{"datum":143,"type":"quantitative","scale":{"domain":[39,133],"nice":false,"zero":false},"axis":{"values":[40,60,80,100,120],"labelOverlap":false,"title":["Respiratory rate","(% of baseline)"],"labelFontSize":8,"titleFontSize":9.5,"labelPadding":3,"titlePadding":3}},"y2":{"datum":154}}},
       {"data":{"name":"d_dose"},"mark":{"type":"point","shape":"triangle-down","filled":true,"color":"#333333","size":18,"opacity":1,"clip":false},"encoding":{"x":{"field":"t","type":"quantitative","scale":{"domain":[-1.3,149.4],"nice":false},"axis":{"values":[0,20,40,60,80,100,120,140],"labels":false,"title":null}},"y":{"datum":141.5,"type":"quantitative","scale":{"domain":[39,133],"nice":false,"zero":false},"axis":{"values":[40,60,80,100,120],"labelOverlap":false,"title":["Respiratory rate","(% of baseline)"],"labelFontSize":8,"titleFontSize":9.5,"labelPadding":3,"titlePadding":3}}}}
      ]},
     {"width":182,"height":57.5,
      "title":{"text":"No response to morphine","anchor":"middle","dx":12,"offset":-15,"fontSize":11},
      "layer":[
       {"data":{"name":"d_pw"},"mark":{"type":"circle","size":8,"color":"#E5174B","opacity":1},
        "encoding":{"x":{"field":"t","type":"quantitative","scale":{"domain":[-1.3,149.4],"nice":false},"axis":{"values":[0,20,40,60,80,100,120,140],"labelOverlap":false,"title":"Time (min)","labelFontSize":10.5,"titleFontSize":11,"labelPadding":5,"titlePadding":3}},
         "y":{"field":"v","type":"quantitative","scale":{"domain":[-20,200],"nice":false,"zero":false},"axis":{"values":[0,40,80,120,160,200],"labelOverlap":false,"title":["β₁power","(% of baseline)"],"labelFontSize":8,"titleFontSize":9.5,"labelPadding":3,"titlePadding":3}}}},
       {"data":{"name":"d_dose"},"mark":{"type":"rule","strokeDash":[4,3],"color":"#333333","strokeWidth":1.2,"clip":false},"encoding":{"x":{"field":"t","type":"quantitative","scale":{"domain":[-1.3,149.4],"nice":false},"axis":{"values":[0,20,40,60,80,100,120,140],"labelOverlap":false,"title":"Time (min)","labelFontSize":10.5,"titleFontSize":11,"labelPadding":5,"titlePadding":3}},"y":{"datum":-20,"type":"quantitative","scale":{"domain":[-20,200],"nice":false,"zero":false},"axis":{"values":[0,40,80,120,160,200],"labelOverlap":false,"title":["β₁power","(% of baseline)"],"labelFontSize":8,"titleFontSize":9.5,"labelPadding":3,"titlePadding":3}},"y2":{"datum":259.7}}}
      ]}
    ]}
  ]},
  {"title":{"text":"E","anchor":"start","frame":"group","dx":-38,"offset":0,"dy":12,"fontWeight":"bold","fontSize":13},
   "vconcat":[
    {"width":140,"height":138,
     "title":{"text":"β₁","fontSize":15,"offset":17},
     "layer":[
      {"data":{"name":"e_band"},"mark":{"type":"area","color":"#F4A8A4","opacity":1,"clip":true},
       "encoding":{"x":{"field":"x","type":"quantitative","scale":{"domain":[0,120],"nice":false},"axis":{"values":[0,20,40,60,80,100,120],"labelOverlap":false,"title":"Power (% of baseline)","labelFontSize":9.5,"titleFontSize":10.5,"labelPadding":4,"titlePadding":4}},"y":{"field":"lo","type":"quantitative","scale":{"domain":[70,100],"nice":false,"zero":false},"axis":{"values":[70,75,80,85,90,95,100],"labelOverlap":false,"title":["Respiratory depression","(% of baseline)"],"labelFontSize":9.5,"titleFontSize":10,"labelPadding":4,"titlePadding":4}},"y2":{"field":"hi"}}},
      {"data":{"name":"e_band"},"mark":{"type":"line","color":"#E5174B","strokeWidth":2},
       "encoding":{"x":{"field":"x","type":"quantitative","scale":{"domain":[0,120],"nice":false},"axis":{"values":[0,20,40,60,80,100,120],"labelOverlap":false,"title":"Power (% of baseline)","labelFontSize":9.5,"titleFontSize":10.5,"labelPadding":4,"titlePadding":4}},"y":{"field":"fit","type":"quantitative","scale":{"domain":[70,100],"nice":false,"zero":false},"axis":{"values":[70,75,80,85,90,95,100],"labelOverlap":false,"title":["Respiratory depression","(% of baseline)"],"labelFontSize":9.5,"titleFontSize":10,"labelPadding":4,"titlePadding":4}}}},
      {"data":{"name":"e_pts"},"mark":{"type":"circle","color":"#E5174B","size":32,"opacity":1},
       "encoding":{"x":{"field":"x","type":"quantitative","scale":{"domain":[0,120],"nice":false},"axis":{"values":[0,20,40,60,80,100,120],"labelOverlap":false,"title":"Power (% of baseline)","labelFontSize":9.5,"titleFontSize":10.5,"labelPadding":4,"titlePadding":4}},"y":{"field":"y","type":"quantitative","scale":{"domain":[70,100],"nice":false,"zero":false},"axis":{"values":[70,75,80,85,90,95,100],"labelOverlap":false,"title":["Respiratory depression","(% of baseline)"],"labelFontSize":9.5,"titleFontSize":10,"labelPadding":4,"titlePadding":4}}}}
     ]}
  ]}
 ]}
]
}
